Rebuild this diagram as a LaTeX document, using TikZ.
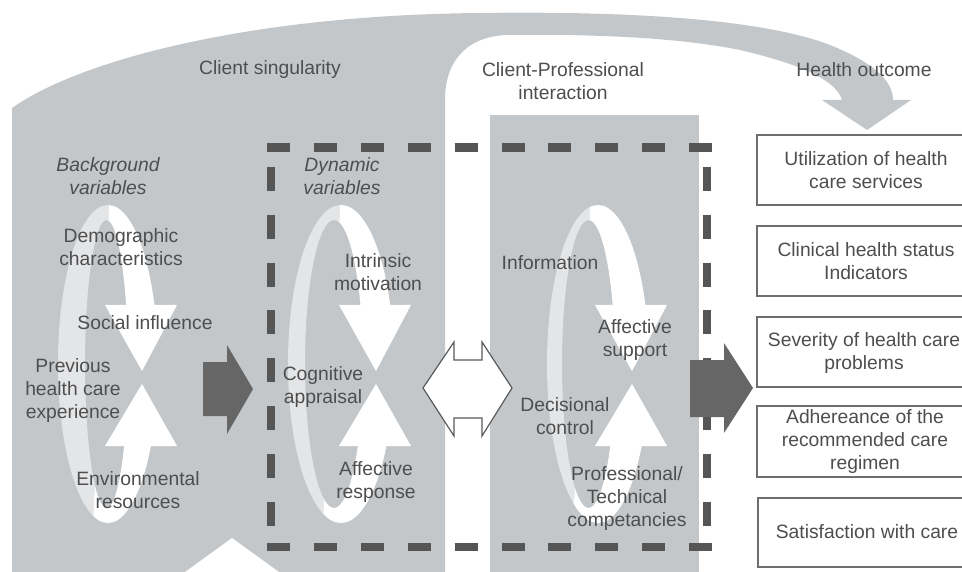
\documentclass[tikz,border=0pt]{standalone}
\usepackage{fontspec}
\setmainfont{Liberation Sans}
\usetikzlibrary{calc}
\definecolor{bggray}{RGB}{196,199,202}
\definecolor{arrowgray}{RGB}{102,102,102}
\definecolor{dashgray}{RGB}{85,85,85}
\definecolor{txtgray}{RGB}{78,78,78}
\definecolor{boxgray}{RGB}{110,110,110}
\definecolor{outlinegray}{RGB}{90,90,90}

% One circular ribbon: translucent back half, white front half, two heads meeting in the middle
% #1 outer cx, #2 outer rx, #3 inner cx, #4 inner rx, #5 head cx, #6 split x at top, #7 split x at bottom
\newcommand{\ribbonloop}[7]{%
  \coordinate (sa) at (#6,190);
  \coordinate (sb) at (#7,540);
  \begin{scope}
    \clip (sa) -- (#5-130,190) -- (#5-130,540) -- (sb) -- cycle;
    \fill[white, fill opacity=0.55, even odd rule]
      (#1,364) ellipse [x radius=#2, y radius=159]
      (#3,364) ellipse [x radius=#4, y radius=144];
  \end{scope}
  \begin{scope}
    \clip (sa) -- (#5+80,190) -- (#5+80,305) -- ($(sa)!0.3286!(sb)$) -- cycle
          ($(sa)!0.7314!(sb)$) -- (#5+80,446) -- (#5+80,540) -- (sb) -- cycle;
    \fill[white, even odd rule]
      (#1,364) ellipse [x radius=#2, y radius=159]
      (#3,364) ellipse [x radius=#4, y radius=144];
  \end{scope}
  \fill[white] (#5-36,305) -- (#5+36,305) -- (#5+1,371) -- cycle;
  \fill[white] (#5-36,446) -- (#5+36,446) -- (#5+1,384) -- cycle;
}

\begin{document}
\begin{tikzpicture}[x=1pt,y=-1pt,
  lbl/.style={text=txtgray, align=center, inner sep=0pt,
    font=\fontsize{19.3}{23}\selectfont},
  itlbl/.style={lbl, font=\fontsize{19.3}{23}\selectfont\itshape},
  outbox/.style={draw=boxgray, line width=1.8pt, fill=white},
  hdash/.style={draw=dashgray, line width=8.5pt, dash pattern=on 23pt off 23.9pt},
  vdash/.style={draw=dashgray, line width=8.5pt, dash pattern=on 24pt off 23.8pt},
  bigarrow/.style={fill=arrowgray},
  twoway/.style={draw=outlinegray, line width=1.2pt, fill=white}]

\useasboundingbox (0,0) rectangle (962,572);
\clip (0,0) rectangle (962,572);
\fill[white] (0,0) rectangle (962,572);

% client singularity area with the band that bends down to the outcomes
\fill[bggray] (12,580) -- (12,108)
  .. controls (80,60) and (250,15) .. (480,13)
  .. controls (620,11) and (760,18) .. (830,45)
  .. controls (872,62) and (893,80) .. (893,100)
  -- (911,100) -- (867,130) -- (822,100) -- (842,100)
  .. controls (836,80) and (800,64) .. (740,50)
  .. controls (680,38) and (600,34) .. (510,35)
  .. controls (470,35) and (445,58) .. (445,100)
  -- (445,580) -- cycle;

% client-professional interaction panel
\fill[bggray] (490,115) rectangle (699,580);

% the three cycles
\ribbonloop{108}{50}{106.5}{21.5}{141}{110}{92}
\ribbonloop{341}{53}{334}{29}{375}{341}{322}
\ribbonloop{598}{51}{588.5}{26.5}{631}{591}{572}

% dashed frame around the dynamic variables and the interaction
\draw[hdash] (267,147.5) -- (713,147.5);
\draw[hdash] (267,547) -- (713,547);
\draw[vdash] (271,167) -- (271,526);
\draw[vdash] (707,167) -- (707,526);

% block arrows
\fill[bigarrow] (203,362) -- (227,362) -- (227,345) -- (253,389)
  -- (227,434) -- (227,416) -- (203,416) -- cycle;
\fill[bigarrow] (690,360) -- (724,360) -- (724,343) -- (753,388)
  -- (724,433) -- (724,417) -- (690,417) -- cycle;
\draw[twoway] (423,388) -- (454,342) -- (454,360) -- (482,360) -- (482,342)
  -- (512,388) -- (482,436) -- (482,418) -- (454,418) -- (454,436) -- cycle;
\fill[white] (174,580) -- (232,538) -- (290,580) -- cycle;

% health outcome boxes
\draw[outbox] (757,135) rectangle (990,205);
\draw[outbox] (757,226) rectangle (990,296);
\draw[outbox] (757,317) rectangle (990,387);
\draw[outbox] (757,406) rectangle (990,477);
\draw[outbox] (758,498) rectangle (990,567);

% headings
\node[lbl] (tclient) at (270,70) {Client singularity};
\node[lbl] (tinter) at (563,81.5) {Client-Professional\\interaction};
\node[lbl] (thealth) at (864,70) {Health outcome};
\node[itlbl] (tbackground) at (108,176.5) {Background\\variables};
\node[itlbl] (tdynamic) at (342,176.5) {Dynamic\\variables};

% background variables
\node[lbl] (tdemo) at (121,247) {Demographic\\characteristics};
\node[lbl] (tsocial) at (145,323) {Social influence};
\node[lbl] (tprevious) at (73,391) {Previous\\health care\\experience};
\node[lbl] (tenv) at (138,490) {Environmental\\resources};

% dynamic variables
\node[lbl] (tintrinsic) at (378,272) {Intrinsic\\motivation};
\node[lbl] (tcognitive) at (323,387.5) {Cognitive\\appraisal};
\node[lbl] (taffresp) at (376,482.5) {Affective\\response};

% interaction
\node[lbl] (tinfo) at (550,263) {Information};
\node[lbl] (taffsup) at (635,340) {Affective\\support};
\node[lbl] (tdecision) at (565,416.5) {Decisional\\control};
\node[lbl] (tprof) at (627,499) {Professional/\\Technical\\competancies};

% outcomes
\node[lbl] (tutil) at (866,170.5) {Utilization of health\\care services};
\node[lbl] (tclinical) at (866,261.5) {Clinical health status\\Indicators};
\node[lbl] (tseverity) at (864,353.5) {Severity of health care\\problems};
\node[lbl] (tadhere) at (865,441.5) {Adhereance of the\\recommended care\\regimen};
\node[lbl] (tsatis) at (867,532) {Satisfaction with care};
\end{tikzpicture}
\end{document}
